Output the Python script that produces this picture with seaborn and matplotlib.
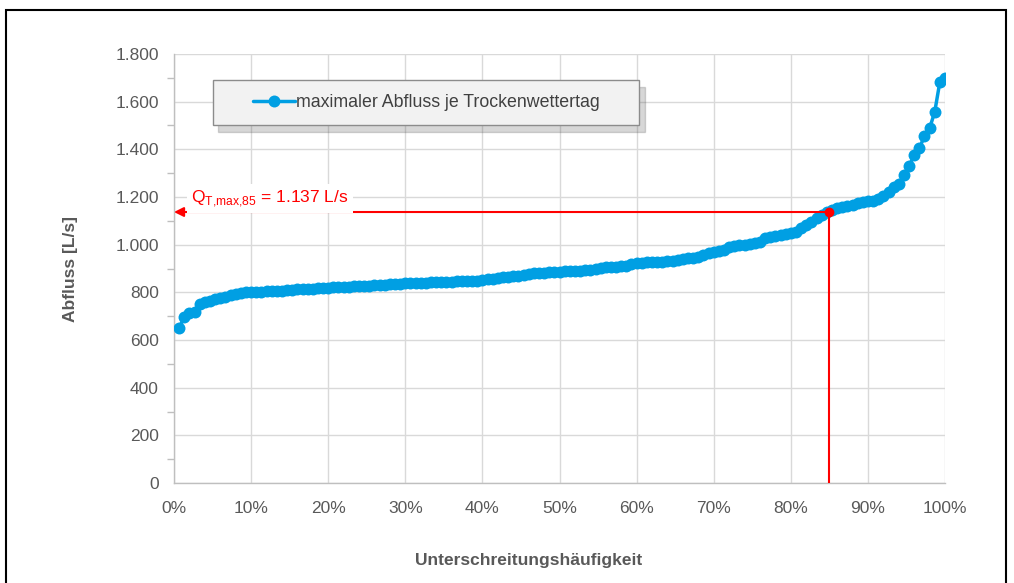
import numpy as np
import pandas as pd
import matplotlib
matplotlib.use("Agg")
import matplotlib.pyplot as plt
import matplotlib.patches as mpatches
from matplotlib.ticker import FuncFormatter, MultipleLocator, PercentFormatter
import seaborn as sns

# maximaler Abfluss je Trockenwettertag, aufsteigend sortiert [L/s]
abfluss = [
    650, 698, 715, 718, 752, 760, 765, 770, 775, 781,
    787, 793, 798, 800, 801, 802, 803, 804, 805, 806,
    807, 809, 810, 812, 813, 815, 816, 818, 819, 820,
    821, 822, 823, 824, 825, 826, 827, 828, 829, 830,
    832, 833, 835, 836, 838, 839, 840, 840, 841, 842,
    843, 844, 845, 845, 846, 846, 847, 848, 849, 850,
    854, 858, 862, 864, 866, 868, 870, 874, 878, 880,
    881, 883, 884, 885, 887, 888, 889, 890, 891, 893,
    895, 898, 901, 905, 907, 908, 910, 912, 918, 923,
    925, 926, 927, 928, 929, 930, 932, 936, 939, 942,
    945, 948, 955, 966, 970, 974, 978, 990, 994, 997,
    1000, 1004, 1008, 1012, 1028, 1034, 1037, 1040, 1044, 1048,
    1055, 1068, 1082, 1096, 1112, 1126, 1135, 1145, 1152, 1158,
    1163, 1168, 1175, 1180, 1182, 1185, 1192, 1205, 1222, 1243,
    1255, 1292, 1330, 1376, 1404, 1456, 1488, 1558, 1684, 1698,
]
serie_label = "maximaler Abfluss je Trockenwettertag"
q_haeufigkeit = 0.85
q_wert = 1137
q_text = r"Q$_\mathregular{T{,}max{,}85}$ = 1.137 L/s"
y_ticks = [0, 200, 400, 600, 800, 1000, 1200, 1400, 1600, 1800]
x_ticks = [0.0, 0.1, 0.2, 0.3, 0.4, 0.5, 0.6, 0.7, 0.8, 0.9, 1.0]

n = len(abfluss)
df = pd.DataFrame({
    "haeufigkeit": np.arange(1, n + 1) / n,
    "abfluss": abfluss,
})

sns.set_theme(style="whitegrid")
plt.rcParams["font.family"] = ["Liberation Sans", "DejaVu Sans"]

blau = "#009fe3"
grau_text = "#595959"
grau_grid = "#d9d9d9"

fig = plt.figure(figsize=(10.14, 5.83), dpi=100)
ax = fig.add_axes([0.1716, 0.1715, 0.932 - 0.1716, 0.9074 - 0.1715])

sns.lineplot(data=df, x="haeufigkeit", y="abfluss", ax=ax, color=blau,
             marker="o", markersize=8.6, markeredgewidth=0, linewidth=2.5,
             label=serie_label, zorder=3)

# Ablesung bei 85 %
ax.plot([q_haeufigkeit, q_haeufigkeit], [0, q_wert], color="red", lw=1.5, zorder=4)
ax.annotate("", xy=(0, q_wert), xytext=(q_haeufigkeit, q_wert),
            arrowprops=dict(arrowstyle="-|>", color="red", lw=1.5,
                            mutation_scale=14, shrinkA=0, shrinkB=0), zorder=4)
ax.plot([q_haeufigkeit], [q_wert], "o", color="red", markersize=6, zorder=5)
ax.text(0.022, q_wert + 55, q_text, color="red", fontsize=12.5, va="center",
        ha="left", zorder=4,
        bbox=dict(facecolor="white", edgecolor="none", pad=3))

ax.set_xlim(0, 1)
ax.set_ylim(0, 1800)
ax.set_xticks(x_ticks)
ax.set_yticks(y_ticks)
ax.yaxis.set_minor_locator(MultipleLocator(100))
ax.xaxis.set_major_formatter(PercentFormatter(1.0, decimals=0))
ax.yaxis.set_major_formatter(FuncFormatter(lambda v, p: f"{int(v):,}".replace(",", ".")))

ax.grid(True, which="major", color=grau_grid, lw=1)
ax.grid(False, which="minor")
for s in ["top", "right"]:
    ax.spines[s].set_visible(False)
for s in ["left", "bottom"]:
    ax.spines[s].set_color("#bfbfbf")
    ax.spines[s].set_linewidth(1)
ax.tick_params(axis="both", which="both", direction="out", length=5, width=1,
               color="#bfbfbf", labelcolor=grau_text, labelsize=12.5, pad=6)
ax.tick_params(axis="y", which="minor", left=True, length=5)
ax.tick_params(axis="x", pad=8)

ax.set_xlabel("Unterschreitungshäufigkeit", fontsize=12.5, fontweight="bold",
              color=grau_text)
ax.xaxis.set_label_coords(0.46, -0.162)
ax.set_ylabel("Abfluss [L/s]", fontsize=12.5, fontweight="bold", color=grau_text)
ax.yaxis.set_label_coords(-0.124, 0.5)

# Legendenkasten mit Schatten
box = mpatches.Rectangle((0.0506, 0.834), 0.553, 0.105, transform=ax.transAxes,
                         facecolor="#f2f2f2", edgecolor="#8c8c8c", lw=1, zorder=6)
shadow = mpatches.Shadow(box, 0.005, -0.011, alpha=0.22, zorder=5)
ax.add_patch(shadow)
ax.add_patch(box)
leg = ax.legend(loc="center", bbox_to_anchor=(0.0506 + 0.553 / 2, 0.834 + 0.105 / 2),
                frameon=False, fontsize=12.8, handlelength=2.4, handletextpad=0.05,
                labelcolor="#404040")
leg.set_zorder(7)

# Rahmen um die Grafik
fig.patches.append(mpatches.Rectangle((6 / 1014, -0.05), 1000 / 1014, 1.05 - 10 / 583,
                                      transform=fig.transFigure, fill=False,
                                      edgecolor="black", lw=1.5))

fig.savefig("out.png", dpi=100)
